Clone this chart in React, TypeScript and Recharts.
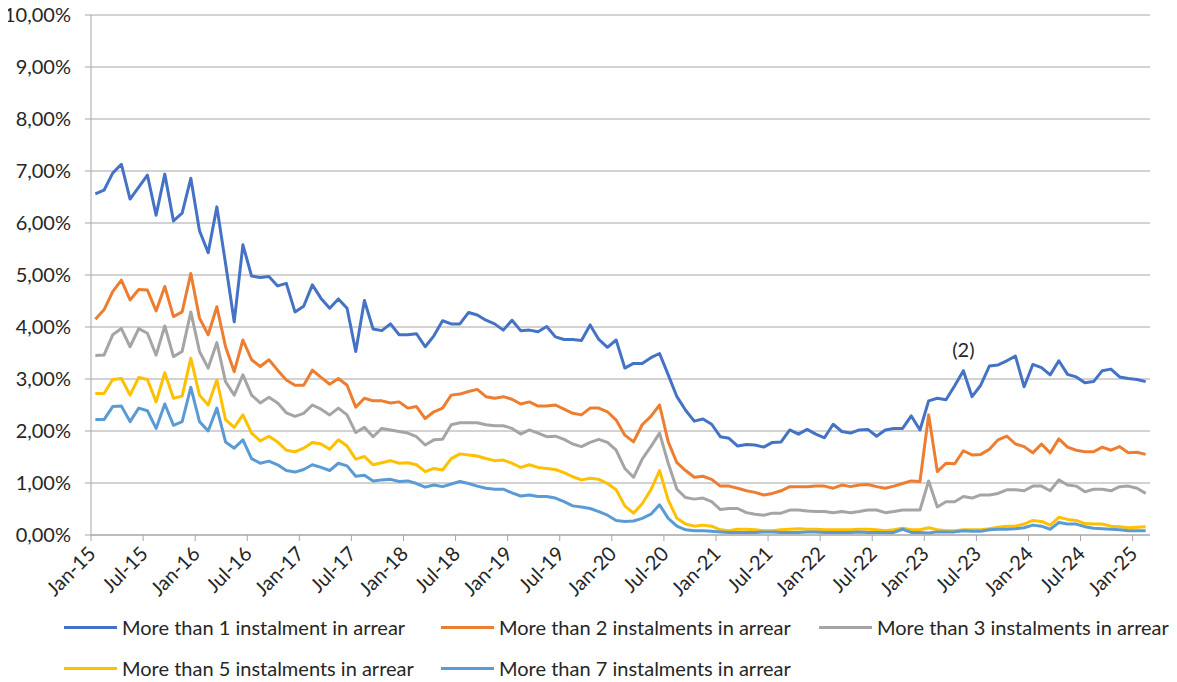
import React from 'react';
import {
  LineChart,
  Line,
  XAxis,
  YAxis,
  CartesianGrid,
  Legend,
  ReferenceDot,
} from 'recharts';

// monthly observations, Jan-15 .. Feb-25
const MONTH_NAMES = ['Jan', 'Feb', 'Mar', 'Apr', 'May', 'Jun', 'Jul', 'Aug', 'Sep', 'Oct', 'Nov', 'Dec'];
const YEARS = ['15', '16', '17', '18', '19', '20', '21', '22', '23', '24', '25'];

const months: string[] = YEARS.flatMap((yy) => MONTH_NAMES.map((m) => `${m}-${yy}`)).slice(0, 122);

const tickLabels = [
  'Jan-15', 'Jul-15', 'Jan-16', 'Jul-16', 'Jan-17', 'Jul-17', 'Jan-18', 'Jul-18', 'Jan-19', 'Jul-19', 'Jan-20',
  'Jul-20', 'Jan-21', 'Jul-21', 'Jan-22', 'Jul-22', 'Jan-23', 'Jul-23', 'Jan-24', 'Jul-24', 'Jan-25',
];

const yTicks = [0, 1, 2, 3, 4, 5, 6, 7, 8, 9, 10];

const moreThan1 = [
  6.56, 6.63, 6.96, 7.13, 6.46, 6.69, 6.92, 6.15, 6.94, 6.04, 6.19, 6.86,
  5.85, 5.43, 6.31, 5.22, 4.10, 5.58, 4.98, 4.95, 4.97, 4.79, 4.84, 4.29,
  4.40, 4.81, 4.55, 4.36, 4.54, 4.36, 3.53, 4.51, 3.96, 3.93, 4.06, 3.85,
  3.85, 3.87, 3.62, 3.83, 4.12, 4.06, 4.06, 4.28, 4.23, 4.13, 4.06, 3.94,
  4.13, 3.93, 3.94, 3.91, 4.01, 3.81, 3.76, 3.76, 3.74, 4.04, 3.76, 3.61,
  3.75, 3.21, 3.30, 3.30, 3.41, 3.49, 3.08, 2.66, 2.40, 2.19, 2.23, 2.13,
  1.89, 1.86, 1.71, 1.74, 1.73, 1.69, 1.78, 1.79, 2.02, 1.94, 2.03, 1.94,
  1.87, 2.13, 1.99, 1.96, 2.02, 2.03, 1.90, 2.02, 2.05, 2.05, 2.29, 2.02,
  2.58, 2.63, 2.60, 2.87, 3.16, 2.66, 2.88, 3.25, 3.27, 3.35, 3.44, 2.85,
  3.28, 3.22, 3.08, 3.35, 3.09, 3.04, 2.93, 2.95, 3.16, 3.19, 3.04, 3.01,
  2.99, 2.95,
];

const moreThan2 = [
  4.15, 4.33, 4.68, 4.90, 4.52, 4.72, 4.71, 4.31, 4.78, 4.20, 4.29, 5.03,
  4.17, 3.85, 4.39, 3.62, 3.14, 3.75, 3.37, 3.24, 3.37, 3.17, 2.98, 2.88,
  2.88, 3.17, 3.03, 2.90, 3.01, 2.88, 2.46, 2.63, 2.58, 2.58, 2.54, 2.56,
  2.44, 2.47, 2.24, 2.37, 2.44, 2.69, 2.71, 2.76, 2.80, 2.66, 2.63, 2.66,
  2.61, 2.52, 2.56, 2.48, 2.48, 2.50, 2.42, 2.34, 2.31, 2.44, 2.44, 2.37,
  2.21, 1.92, 1.79, 2.12, 2.28, 2.50, 1.79, 1.39, 1.24, 1.11, 1.13, 1.07,
  0.94, 0.94, 0.90, 0.85, 0.82, 0.77, 0.80, 0.85, 0.93, 0.93, 0.93, 0.94,
  0.94, 0.90, 0.96, 0.93, 0.96, 0.97, 0.93, 0.90, 0.94, 0.99, 1.04, 1.03,
  2.31, 1.22, 1.38, 1.37, 1.62, 1.54, 1.55, 1.65, 1.83, 1.90, 1.75, 1.70,
  1.58, 1.75, 1.58, 1.85, 1.69, 1.63, 1.60, 1.60, 1.69, 1.63, 1.70, 1.58,
  1.59, 1.55,
];

const moreThan3 = [
  3.45, 3.46, 3.85, 3.97, 3.62, 3.97, 3.88, 3.46, 4.02, 3.43, 3.53, 4.29,
  3.53, 3.21, 3.70, 2.95, 2.69, 3.08, 2.69, 2.54, 2.65, 2.54, 2.35, 2.28,
  2.34, 2.50, 2.42, 2.31, 2.44, 2.31, 1.97, 2.07, 1.89, 2.05, 2.02, 1.99,
  1.96, 1.89, 1.73, 1.83, 1.84, 2.12, 2.16, 2.16, 2.16, 2.12, 2.10, 2.10,
  2.05, 1.94, 2.02, 1.96, 1.89, 1.90, 1.84, 1.75, 1.70, 1.78, 1.84, 1.78,
  1.63, 1.28, 1.11, 1.46, 1.70, 1.96, 1.38, 0.88, 0.72, 0.69, 0.71, 0.64,
  0.49, 0.51, 0.51, 0.43, 0.40, 0.38, 0.42, 0.42, 0.48, 0.48, 0.46, 0.45,
  0.45, 0.43, 0.45, 0.43, 0.45, 0.48, 0.48, 0.43, 0.45, 0.48, 0.48, 0.48,
  1.04, 0.54, 0.64, 0.64, 0.74, 0.71, 0.77, 0.77, 0.80, 0.87, 0.87, 0.85,
  0.94, 0.94, 0.85, 1.06, 0.96, 0.94, 0.83, 0.88, 0.88, 0.85, 0.93, 0.94,
  0.90, 0.80,
];

const moreThan5 = [
  2.72, 2.72, 2.99, 3.01, 2.69, 3.03, 2.99, 2.56, 3.12, 2.63, 2.67, 3.40,
  2.69, 2.50, 2.98, 2.22, 2.07, 2.31, 1.96, 1.81, 1.90, 1.79, 1.63, 1.60,
  1.67, 1.78, 1.75, 1.65, 1.83, 1.71, 1.46, 1.51, 1.35, 1.39, 1.43, 1.38,
  1.39, 1.35, 1.22, 1.28, 1.25, 1.47, 1.56, 1.54, 1.52, 1.47, 1.43, 1.44,
  1.38, 1.30, 1.35, 1.30, 1.28, 1.26, 1.20, 1.12, 1.06, 1.09, 1.07, 0.99,
  0.87, 0.56, 0.42, 0.60, 0.87, 1.24, 0.67, 0.32, 0.21, 0.17, 0.19, 0.17,
  0.10, 0.08, 0.11, 0.11, 0.10, 0.08, 0.08, 0.10, 0.11, 0.12, 0.11, 0.11,
  0.10, 0.10, 0.10, 0.10, 0.11, 0.11, 0.10, 0.08, 0.10, 0.13, 0.10, 0.10,
  0.14, 0.10, 0.08, 0.08, 0.10, 0.10, 0.10, 0.12, 0.15, 0.17, 0.17, 0.21,
  0.28, 0.26, 0.19, 0.34, 0.30, 0.28, 0.22, 0.21, 0.21, 0.17, 0.16, 0.14,
  0.15, 0.16,
];

const moreThan7 = [
  2.22, 2.22, 2.47, 2.48, 2.18, 2.44, 2.39, 2.05, 2.52, 2.11, 2.18, 2.84,
  2.18, 2.00, 2.44, 1.79, 1.67, 1.83, 1.47, 1.38, 1.42, 1.35, 1.24, 1.21,
  1.26, 1.35, 1.30, 1.24, 1.38, 1.33, 1.13, 1.15, 1.04, 1.06, 1.07, 1.03,
  1.04, 0.99, 0.92, 0.96, 0.93, 0.98, 1.03, 0.99, 0.94, 0.90, 0.88, 0.88,
  0.81, 0.75, 0.77, 0.74, 0.74, 0.71, 0.64, 0.56, 0.54, 0.51, 0.45, 0.38,
  0.28, 0.26, 0.27, 0.32, 0.40, 0.58, 0.32, 0.17, 0.10, 0.08, 0.08, 0.07,
  0.06, 0.05, 0.05, 0.05, 0.05, 0.06, 0.06, 0.05, 0.05, 0.05, 0.06, 0.06,
  0.05, 0.05, 0.05, 0.05, 0.06, 0.05, 0.05, 0.05, 0.05, 0.11, 0.05, 0.05,
  0.04, 0.06, 0.06, 0.06, 0.08, 0.07, 0.07, 0.10, 0.11, 0.11, 0.12, 0.14,
  0.19, 0.17, 0.11, 0.24, 0.21, 0.21, 0.16, 0.13, 0.12, 0.11, 0.10, 0.08,
  0.08, 0.08,
];

const SERIES = [
  { key: 'm1', name: 'More than 1 instalment in arrear', color: '#4472C4', values: moreThan1 },
  { key: 'm2', name: 'More than 2 instalments in arrear', color: '#ED7D31', values: moreThan2 },
  { key: 'm3', name: 'More than 3 instalments in arrear', color: '#A5A5A5', values: moreThan3 },
  { key: 'm5', name: 'More than 5 instalments in arrear', color: '#FFC000', values: moreThan5 },
  { key: 'm7', name: 'More than 7 instalments in arrear', color: '#5B9BD5', values: moreThan7 },
];

// each month sits in the middle of its slot (Excel "between tick marks")
const data = months.map((month, i) => {
  const row: Record<string, string | number> = { month, t: i + 0.5 };
  SERIES.forEach((s) => {
    row[s.key] = s.values[i];
  });
  return row;
});

const FONT = 'Lato, "Open Sans", sans-serif';
const TEXT = '#262626';
const GRID = '#a6a6a6';

const W = 1177;
const H = 682;

const XTick = (props: any) => {
  const { x, y, payload } = props;
  const label = tickLabels[Math.round(payload.value / 6)];
  const ax = x + 6;
  const ay = y + 12;
  return (
    <text
      x={ax}
      y={ay}
      transform={`rotate(-45 ${ax} ${ay})`}
      textAnchor="end"
      fontFamily={FONT}
      fontSize={20}
      fill={TEXT}
    >
      {label}
    </text>
  );
};

// legend slots as in the source workbook: three per row
const legendSlots = [
  { left: 64, top: 627 },
  { left: 441, top: 627 },
  { left: 819, top: 627 },
  { left: 64, top: 668 },
  { left: 441, top: 668 },
];

const renderLegend = () => (
  <div style={{ position: 'relative', width: W, height: 0 }}>
    {SERIES.map((s, i) => (
      <div
        key={s.key}
        style={{
          position: 'absolute',
          left: legendSlots[i].left,
          top: legendSlots[i].top - 13,
          height: 26,
          display: 'flex',
          alignItems: 'center',
          whiteSpace: 'nowrap',
          fontFamily: FONT,
          fontSize: 20,
          color: TEXT,
        }}
      >
        <span style={{ display: 'inline-block', width: 53, height: 3, background: s.color, marginRight: 5 }} />
        {s.name}
      </div>
    ))}
  </div>
);

export default function App() {
  return (
    // cancel the body margin so the chart uses the whole window and no label is clipped
    <div style={{ margin: '-8px 0 0 -8px', width: W, height: H }}>
      <LineChart width={W} height={H} data={data} margin={{ top: 15, right: 27, left: 0, bottom: 117 }}>
        <CartesianGrid vertical={false} stroke={GRID} strokeWidth={1} />
        <XAxis
          type="number"
          dataKey="t"
          domain={[0, 122]}
          ticks={tickLabels.map((_, k) => k * 6)}
          interval={0}
          height={30}
          tick={<XTick />}
          tickSize={6}
          axisLine={{ stroke: GRID }}
          tickLine={{ stroke: GRID }}
        />
        <YAxis
          domain={[0, 10]}
          ticks={yTicks}
          interval={0}
          width={91}
          tickSize={6}
          tickMargin={14}
          tickFormatter={(v: number) => `${v.toFixed(2).replace('.', ',')}%`}
          tick={{ fontFamily: FONT, fontSize: 20, fill: TEXT }}
          axisLine={{ stroke: GRID }}
          tickLine={{ stroke: GRID }}
        />
        {SERIES.map((s) => (
          <Line
            key={s.key}
            type="linear"
            dataKey={s.key}
            name={s.name}
            stroke={s.color}
            strokeWidth={3}
            strokeLinejoin="round"
            dot={false}
            activeDot={false}
            isAnimationActive={false}
          />
        ))}
        <ReferenceDot
          x={100.5}
          y={3.56}
          r={0}
          fill="none"
          stroke="none"
          label={{ value: '(2)', position: 'center', fontFamily: FONT, fontSize: 20, fill: TEXT }}
        />
        <Legend
          verticalAlign="middle"
          content={renderLegend}
          wrapperStyle={{ top: 0, left: 0, width: W, height: 0 }}
        />
      </LineChart>
    </div>
  );
}
